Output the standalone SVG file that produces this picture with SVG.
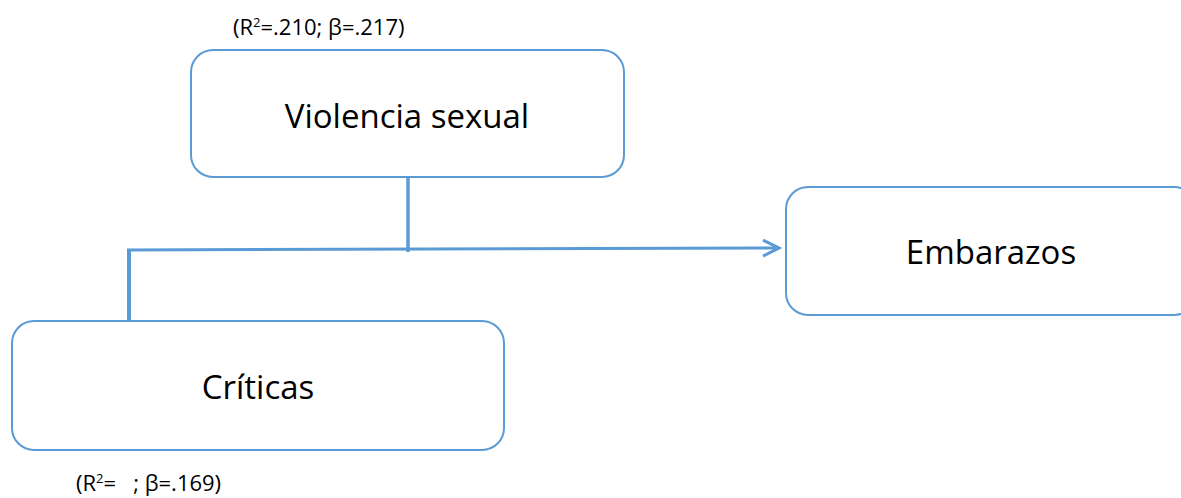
<svg xmlns="http://www.w3.org/2000/svg" width="1181" height="498" viewBox="0 0 1181 498">
<style>
.box{fill:#fff;stroke:#5b9bd5;stroke-width:2}
.lbl{font-family:"Open Sans","Liberation Sans",sans-serif;font-size:33px;fill:#000;text-anchor:middle}
.stat{font-family:"Open Sans","Liberation Sans",sans-serif;font-size:22px;fill:#000}
.con{stroke:#5b9bd5;fill:none}
</style>
<defs>
<marker id="arr" markerWidth="20" markerHeight="20" refX="17" refY="9" orient="auto" markerUnits="userSpaceOnUse">
<path d="M1,1 L17,9 L1,17" fill="none" stroke="#5b9bd5" stroke-width="3"/>
</marker>
</defs>
<rect width="1181" height="498" fill="#fff"/>
<g id="connectors">
<line class="con" x1="408" y1="177" x2="408" y2="252" stroke-width="3.5"/>
<line class="con" x1="129" y1="251" x2="129" y2="322" stroke-width="4"/>
<line class="con" x1="127" y1="250" x2="779" y2="248" stroke-width="3" marker-end="url(#arr)"/>
</g>
<g id="violencia">
<rect class="box" x="191" y="50" width="433" height="127" rx="22"/>
<text class="lbl" x="407" y="128">Violencia sexual</text>
</g>
<g id="embarazos">
<rect class="box" x="786" y="187" width="410" height="128" rx="22"/>
<text class="lbl" x="991" y="264">Embarazos</text>
</g>
<g id="criticas">
<rect class="box" x="12" y="321" width="492" height="129" rx="22"/>
<text class="lbl" x="258" y="399">Críticas</text>
</g>
<g id="stats">
<text class="stat" x="233" y="35">(R<tspan font-size="13" dy="-8">2</tspan><tspan dy="8">=.210; β=.217)</tspan></text>
<text class="stat" x="76" y="491" xml:space="preserve">(R<tspan font-size="13" dy="-8">2</tspan><tspan dy="8">=   ; β=.169)</tspan></text>
</g>
</svg>
